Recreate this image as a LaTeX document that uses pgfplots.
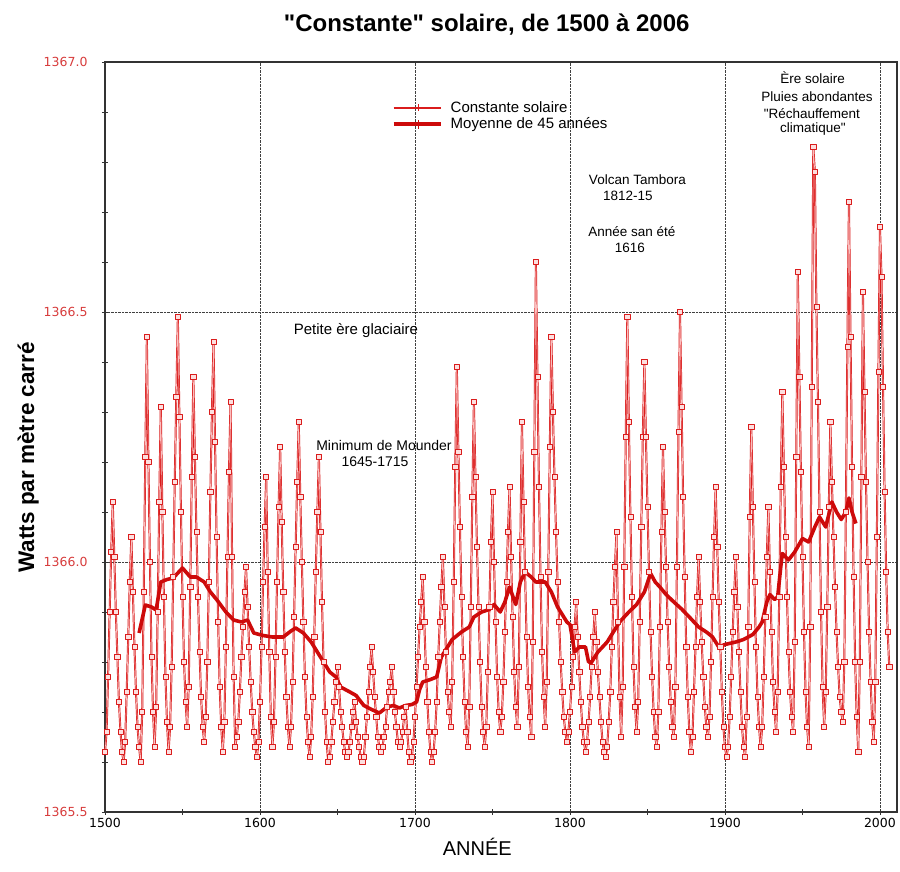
\documentclass[border=0pt]{standalone}
\usepackage{pgfplots}
\usepackage{pgfplotstable}
\pgfplotsset{compat=1.18}
\usepackage{fontspec}
\setmainfont{Liberation Sans}[Ligatures=TeXOff]
\newfontfamily\tickfont{DejaVu Sans}
\definecolor{cSerie}{RGB}{218,28,28}
\definecolor{cInner}{RGB}{250,190,190}
\definecolor{cMoy}{RGB}{205,10,10}
\definecolor{cTick}{RGB}{215,60,60}
\pgfplotstableread[row sep=\\]{
year val\\
1500 1365.62\\1501 1365.66\\1502 1365.77\\1503 1365.90\\1504 1366.02\\1505 1366.12\\
1506 1366.01\\1507 1365.90\\1508 1365.81\\1509 1365.72\\1510 1365.66\\1511 1365.62\\1512 1365.60\\
1513 1365.64\\1514 1365.74\\1515 1365.85\\1516 1365.96\\1517 1366.05\\
1518 1365.94\\1519 1365.83\\1520 1365.74\\1521 1365.67\\1522 1365.63\\1523 1365.60\\
1524 1365.70\\1525 1365.94\\1526 1366.21\\1527 1366.45\\
1528 1366.20\\1529 1366.00\\1530 1365.81\\1531 1365.70\\1532 1365.63\\
1533 1365.71\\1534 1365.90\\1535 1366.12\\1536 1366.31\\
1537 1366.10\\1538 1365.93\\1539 1365.77\\1540 1365.68\\1541 1365.62\\
1542 1365.67\\1543 1365.79\\1544 1365.97\\1545 1366.16\\1546 1366.33\\1547 1366.49\\
1548 1366.29\\1549 1366.10\\1550 1365.93\\1551 1365.80\\1552 1365.72\\1553 1365.67\\
1554 1365.75\\1555 1365.95\\1556 1366.17\\1557 1366.37\\
1558 1366.21\\1559 1366.06\\1560 1365.93\\1561 1365.82\\1562 1365.73\\1563 1365.67\\1564 1365.64\\
1565 1365.69\\1566 1365.80\\1567 1365.96\\1568 1366.14\\1569 1366.30\\1570 1366.44\\
1571 1366.24\\1572 1366.05\\1573 1365.88\\1574 1365.75\\1575 1365.67\\1576 1365.62\\
1577 1365.68\\1578 1365.83\\1579 1366.01\\1580 1366.18\\1581 1366.32\\
1582 1366.01\\1583 1365.77\\1584 1365.63\\
1585 1365.65\\1586 1365.68\\1587 1365.74\\1588 1365.81\\1589 1365.87\\1590 1365.94\\1591 1365.99\\
1592 1365.91\\1593 1365.83\\1594 1365.76\\1595 1365.70\\1596 1365.66\\1597 1365.63\\1598 1365.61\\
1599 1365.64\\1600 1365.72\\1601 1365.83\\1602 1365.96\\1603 1366.07\\1604 1366.17\\
1605 1365.98\\1606 1365.82\\1607 1365.69\\1608 1365.63\\
1609 1365.68\\1610 1365.81\\1611 1365.96\\1612 1366.11\\1613 1366.23\\
1614 1366.08\\1615 1365.94\\1616 1365.82\\1617 1365.73\\1618 1365.67\\1619 1365.63\\
1620 1365.67\\1621 1365.76\\1622 1365.89\\1623 1366.03\\1624 1366.16\\1625 1366.28\\
1626 1366.13\\1627 1366.00\\1628 1365.88\\1629 1365.77\\1630 1365.69\\1631 1365.64\\1632 1365.61\\
1633 1365.65\\1634 1365.73\\1635 1365.85\\1636 1365.98\\1637 1366.10\\1638 1366.21\\
1639 1366.06\\1640 1365.92\\1641 1365.80\\1642 1365.70\\1643 1365.64\\1644 1365.60\\
1645 1365.61\\1646 1365.64\\1647 1365.68\\1648 1365.72\\1649 1365.76\\1650 1365.79\\
1651 1365.75\\1652 1365.70\\1653 1365.67\\1654 1365.64\\1655 1365.62\\1656 1365.61\\
1657 1365.62\\1658 1365.64\\1659 1365.67\\1660 1365.70\\1661 1365.72\\
1662 1365.68\\1663 1365.65\\1664 1365.63\\1665 1365.61\\1666 1365.60\\
1667 1365.61\\1668 1365.65\\1669 1365.69\\1670 1365.74\\1671 1365.79\\1672 1365.83\\
1673 1365.78\\1674 1365.73\\1675 1365.69\\1676 1365.65\\1677 1365.63\\1678 1365.62\\
1679 1365.63\\1680 1365.65\\1681 1365.67\\1682 1365.71\\1683 1365.74\\1684 1365.76\\1685 1365.79\\
1686 1365.74\\1687 1365.70\\1688 1365.67\\1689 1365.64\\1690 1365.63\\
1691 1365.64\\1692 1365.66\\1693 1365.69\\1694 1365.71\\
1695 1365.66\\1696 1365.62\\1697 1365.60\\
1698 1365.61\\1699 1365.64\\1700 1365.69\\1701 1365.75\\1702 1365.81\\1703 1365.87\\1704 1365.92\\1705 1365.97\\
1706 1365.88\\1707 1365.79\\1708 1365.72\\1709 1365.66\\1710 1365.62\\1711 1365.60\\
1712 1365.62\\1713 1365.66\\1714 1365.72\\1715 1365.81\\1716 1365.88\\1717 1365.95\\1718 1366.01\\
1719 1365.91\\1720 1365.82\\1721 1365.74\\1722 1365.70\\1723 1365.67\\
1724 1365.76\\1725 1365.96\\1726 1366.19\\1727 1366.39\\
1728 1366.22\\1729 1366.07\\1730 1365.93\\1731 1365.81\\1732 1365.72\\1733 1365.66\\1734 1365.63\\
1735 1365.71\\1736 1365.91\\1737 1366.13\\1738 1366.32\\
1739 1366.17\\1740 1366.03\\1741 1365.91\\1742 1365.80\\1743 1365.71\\1744 1365.66\\1745 1365.63\\
1746 1365.67\\1747 1365.78\\1748 1365.91\\1749 1366.04\\1750 1366.14\\
1751 1366.00\\1752 1365.88\\1753 1365.77\\1754 1365.70\\1755 1365.66\\
1756 1365.69\\1757 1365.76\\1758 1365.86\\1759 1365.96\\1760 1366.06\\1761 1366.15\\
1762 1366.01\\1763 1365.89\\1764 1365.78\\1765 1365.71\\1766 1365.67\\
1767 1365.79\\1768 1366.04\\1769 1366.28\\
1770 1366.12\\1771 1365.98\\1772 1365.85\\1773 1365.75\\1774 1365.69\\1775 1365.65\\
1776 1365.84\\1777 1366.22\\1778 1366.60\\
1779 1366.37\\1780 1366.15\\1781 1365.97\\1782 1365.82\\1783 1365.73\\1784 1365.67\\
1785 1365.76\\1786 1365.98\\1787 1366.23\\1788 1366.45\\
1789 1366.30\\1790 1366.17\\1791 1366.06\\1792 1365.96\\1793 1365.88\\1794 1365.80\\1795 1365.74\\1796 1365.69\\1797 1365.66\\1798 1365.64\\
1799 1365.66\\1800 1365.70\\1801 1365.75\\1802 1365.81\\1803 1365.87\\1804 1365.92\\
1805 1365.85\\1806 1365.78\\1807 1365.72\\1808 1365.67\\1809 1365.64\\1810 1365.62\\
1811 1365.64\\1812 1365.68\\1813 1365.73\\1814 1365.79\\1815 1365.85\\1816 1365.90\\
1817 1365.84\\1818 1365.78\\1819 1365.73\\1820 1365.68\\1821 1365.64\\1822 1365.62\\1823 1365.61\\
1824 1365.63\\1825 1365.68\\1826 1365.74\\1827 1365.83\\1828 1365.92\\1829 1365.99\\1830 1366.06\\
1831 1365.88\\1832 1365.73\\1833 1365.65\\
1834 1365.75\\1835 1365.99\\1836 1366.25\\1837 1366.49\\
1838 1366.28\\1839 1366.09\\1840 1365.93\\1841 1365.79\\1842 1365.71\\1843 1365.66\\
1844 1365.72\\1845 1365.88\\1846 1366.07\\1847 1366.25\\1848 1366.40\\
1849 1366.25\\1850 1366.11\\1851 1365.98\\1852 1365.86\\1853 1365.77\\1854 1365.70\\1855 1365.65\\1856 1365.63\\
1857 1365.70\\1858 1365.87\\1859 1366.06\\1860 1366.23\\
1861 1366.10\\1862 1365.99\\1863 1365.88\\1864 1365.79\\1865 1365.72\\1866 1365.67\\1867 1365.65\\
1868 1365.75\\1869 1365.99\\1870 1366.26\\1871 1366.50\\
1872 1366.31\\1873 1366.13\\1874 1365.97\\1875 1365.83\\1876 1365.73\\1877 1365.66\\1878 1365.62\\
1879 1365.65\\1880 1365.74\\1881 1365.83\\1882 1365.93\\1883 1366.01\\
1884 1365.92\\1885 1365.84\\1886 1365.77\\1887 1365.71\\1888 1365.67\\1889 1365.65\\
1890 1365.69\\1891 1365.80\\1892 1365.93\\1893 1366.05\\1894 1366.15\\
1895 1366.03\\1896 1365.92\\1897 1365.83\\1898 1365.74\\1899 1365.67\\1900 1365.63\\1901 1365.61\\
1902 1365.63\\1903 1365.69\\1904 1365.77\\1905 1365.86\\1906 1365.94\\1907 1366.01\\
1908 1365.91\\1909 1365.82\\1910 1365.74\\1911 1365.67\\1912 1365.63\\1913 1365.61\\
1914 1365.69\\1915 1365.87\\1916 1366.09\\1917 1366.27\\
1918 1366.11\\1919 1365.96\\1920 1365.83\\1921 1365.73\\1922 1365.67\\1923 1365.63\\
1924 1365.67\\1925 1365.77\\1926 1365.89\\1927 1366.01\\1928 1366.11\\
1929 1365.98\\1930 1365.86\\1931 1365.76\\1932 1365.70\\1933 1365.66\\
1934 1365.74\\1935 1365.93\\1936 1366.15\\1937 1366.34\\
1938 1366.19\\1939 1366.05\\1940 1365.93\\1941 1365.82\\1942 1365.74\\1943 1365.69\\1944 1365.66\\
1945 1365.84\\1946 1366.21\\1947 1366.58\\
1948 1366.37\\1949 1366.18\\1950 1366.01\\1951 1365.86\\1952 1365.74\\1953 1365.67\\1954 1365.63\\
1955 1365.87\\1956 1366.35\\1957 1366.83\\
1958 1366.78\\1959 1366.51\\1960 1366.32\\1961 1366.10\\1962 1365.90\\1963 1365.75\\1964 1365.67\\
1965 1365.74\\1966 1365.91\\1967 1366.11\\1968 1366.28\\
1969 1366.16\\1970 1366.05\\1971 1365.95\\1972 1365.86\\1973 1365.79\\1974 1365.73\\1975 1365.70\\1976 1365.68\\
1977 1365.80\\1978 1366.10\\1979 1366.43\\1980 1366.72\\
1981 1366.45\\1982 1366.19\\1983 1365.97\\1984 1365.80\\1985 1365.69\\1986 1365.62\\
1987 1365.80\\1988 1366.17\\1989 1366.54\\
1990 1366.34\\1991 1366.16\\1992 1366.00\\1993 1365.86\\1994 1365.76\\1995 1365.68\\1996 1365.64\\
1997 1365.76\\1998 1366.05\\1999 1366.38\\2000 1366.67\\
2001 1366.57\\2002 1366.35\\2003 1366.14\\2004 1365.98\\2005 1365.86\\2006 1365.79\\
}\solar
\begin{document}
\begin{tikzpicture}
\useasboundingbox (0,0) rectangle (900pt,872pt);
\begin{axis}[
  at={(105pt,60pt)}, anchor=south west,
  scale only axis, width=792pt, height=750pt,
  xmin=1500, xmax=2011, ymin=1365.5, ymax=1367.0,
  xtick={1500,1600,1700,1800,1900,2000},
  xticklabels={1500,1600,1700,1800,1900,2000},
  ytick={1365.5,1366,1366.5,1367},
  yticklabels={1365.5,1366.0,1366.5,1367.0},
  minor xtick={1550,1650,1750,1850,1950},
  minor ytick={1365.6,1365.7,1365.8,1365.9,1366.1,1366.2,1366.3,1366.4,1366.6,1366.7,1366.8,1366.9},
  xtick pos=bottom, ytick pos=left,
  tick align=center,
  major tick length=6pt, minor tick length=6pt,
  xmajorgrids, ymajorgrids,
  major grid style={densely dotted, black!75, line width=0.7pt},
  axis line style={line width=1.1pt, black!80},
  tick style={black!80, line width=0.7pt},
  x tick label style={font=\tickfont\fontsize{12.5}{14}\selectfont},
  y tick label style={font=\tickfont\fontsize{12.5}{14}\selectfont, text=cTick, xshift=-11pt},
  xlabel={ANNÉE},
  xlabel style={font=\fontsize{20}{24}\selectfont, at={(axis description cs:0.47,-0.047)}, anchor=center},
  ylabel={Watts par mètre carré},
  ylabel style={font=\bfseries\fontsize{22.5}{24}\selectfont, at={(axis description cs:-0.097,0.473)}, anchor=center},
  legend style={draw=none, fill=none, at={(axis description cs:0.358,0.953)}, anchor=north west,
    font=\fontsize{15}{18}\selectfont, row sep=0pt, legend cell align=left},
  clip=false,
]
% outer red stroke of the yearly series
\addplot[draw=cSerie, line width=2.0pt, line join=round, forget plot] table[x=year, y=val] {\solar};
% light inner stroke + square marks
\addplot[draw=cInner, line width=0.6pt, line join=round, forget plot,
  mark=square*, mark size=2.6pt,
  mark options={solid, fill=cInner!50!white, draw=cSerie, line width=0.6pt}]
  table[x=year, y=val] {\solar};
% 45-year running mean
\addplot[draw=cMoy, line width=3.6pt, line join=round, forget plot]
coordinates {
(1522,1365.858)(1526,1365.914)(1530,1365.91)(1533,1365.904)(1536,1365.96)(1540,1365.965)
(1544,1365.968)(1550,1365.988)(1555,1365.97)(1559,1365.97)(1564,1365.96)(1568,1365.94)
(1572,1365.925)(1578,1365.90)(1583,1365.884)(1588,1365.88)(1592,1365.884)(1596,1365.858)
(1602,1365.853)(1608,1365.85)(1615,1365.85)(1620,1365.862)(1623,1365.868)(1628,1365.858)
(1633,1365.84)(1637,1365.82)(1641,1365.80)(1645,1365.78)(1649,1365.77)(1652,1365.75)
(1658,1365.74)(1662,1365.733)(1667,1365.713)(1672,1365.705)(1677,1365.698)(1682,1365.71)
(1686,1365.713)(1690,1365.708)(1694,1365.713)(1698,1365.715)(1701,1365.72)(1703,1365.745)
(1705,1365.76)(1710,1365.765)(1714,1365.77)(1717,1365.81)(1719,1365.82)(1724,1365.845)
(1730,1365.86)(1735,1365.87)(1738,1365.89)(1743,1365.90)(1748,1365.905)(1751,1365.915)
(1755,1365.90)(1758,1365.92)(1761,1365.95)(1765,1365.915)(1768,1365.96)(1771,1365.98)
(1775,1365.97)(1778,1365.96)(1784,1365.96)(1788,1365.94)(1792,1365.91)(1795,1365.895)
(1798,1365.88)(1800,1365.875)(1803,1365.82)(1806,1365.83)(1810,1365.83)(1812,1365.80)
(1814,1365.80)(1818,1365.82)(1824,1365.84)(1828,1365.86)(1832,1365.88)(1838,1365.90)
(1843,1365.915)(1848,1365.94)(1852,1365.977)(1855,1365.96)(1858,1365.95)(1862,1365.935)
(1867,1365.92)(1872,1365.906)(1877,1365.89)(1883,1365.87)(1888,1365.86)(1892,1365.85)
(1896,1365.83)(1900,1365.835)(1907,1365.84)(1912,1365.845)(1918,1365.855)(1922,1365.87)
(1924,1365.88)(1927,1365.92)(1929,1365.935)(1932,1365.925)(1934,1365.93)(1936,1365.99)
(1937,1366.017)(1941,1366.004)(1945,1366.02)(1950,1366.047)(1954,1366.04)(1958,1366.07)
(1961,1366.09)(1965,1366.07)(1969,1366.12)(1972,1366.10)(1975,1366.085)(1978,1366.10)
(1980,1366.128)(1982,1366.10)(1984.5,1366.077)
};
\addlegendimage{legend image code/.code={\path (55pt,0pt); \draw[color=cSerie, line width=1.1pt] (25pt,-3.5pt) -- (25pt,3.5pt); \draw[color=cSerie, line width=2pt] (0pt,0pt) -- (47pt,0pt);}}
\addlegendentry{Constante solaire}
\addlegendimage{legend image code/.code={\path (55pt,0pt); \draw[color=cMoy, line width=1.1pt] (25pt,-4.5pt) -- (25pt,4.5pt); \draw[color=cMoy, line width=3.6pt] (0pt,0pt) -- (47pt,0pt);}}
\addlegendentry{Moyenne de 45 années}
% title
\node[font=\bfseries\fontsize{24}{28}\selectfont] at (axis description cs:0.482,1.05) {"Constante" solaire, de 1500 à 2006};
% annotations
\node[font=\fontsize{15}{18}\selectfont] at (axis cs:1661.9,1366.462) {Petite ère glaciaire};
\node[font=\fontsize{14}{17}\selectfont] at (axis cs:1680,1366.232) {Minimum de Mounder};
\node[font=\fontsize{14}{17}\selectfont] at (axis cs:1674.2,1366.20) {1645-1715};
\node[font=\fontsize{13.5}{16}\selectfont] at (axis cs:1843.5,1366.764) {Volcan Tambora};
\node[font=\fontsize{13.5}{16}\selectfont] at (axis cs:1837.4,1366.732) {1812-15};
\node[font=\fontsize{13.5}{16}\selectfont] at (axis cs:1840,1366.66) {Année san été};
\node[font=\fontsize{13.5}{16}\selectfont] at (axis cs:1838.7,1366.628) {1616};
\node[font=\fontsize{13.5}{16}\selectfont] at (axis cs:1956.5,1366.968) {Ère solaire};
\node[font=\fontsize{13.5}{16}\selectfont] at (axis cs:1959.4,1366.93) {Pluies abondantes};
\node[font=\fontsize{13.5}{16}\selectfont] at (axis cs:1956.1,1366.896) {"Réchauffement};
\node[font=\fontsize{13.5}{16}\selectfont] at (axis cs:1956.8,1366.866) {climatique"};
\end{axis}
\end{tikzpicture}
\end{document}
